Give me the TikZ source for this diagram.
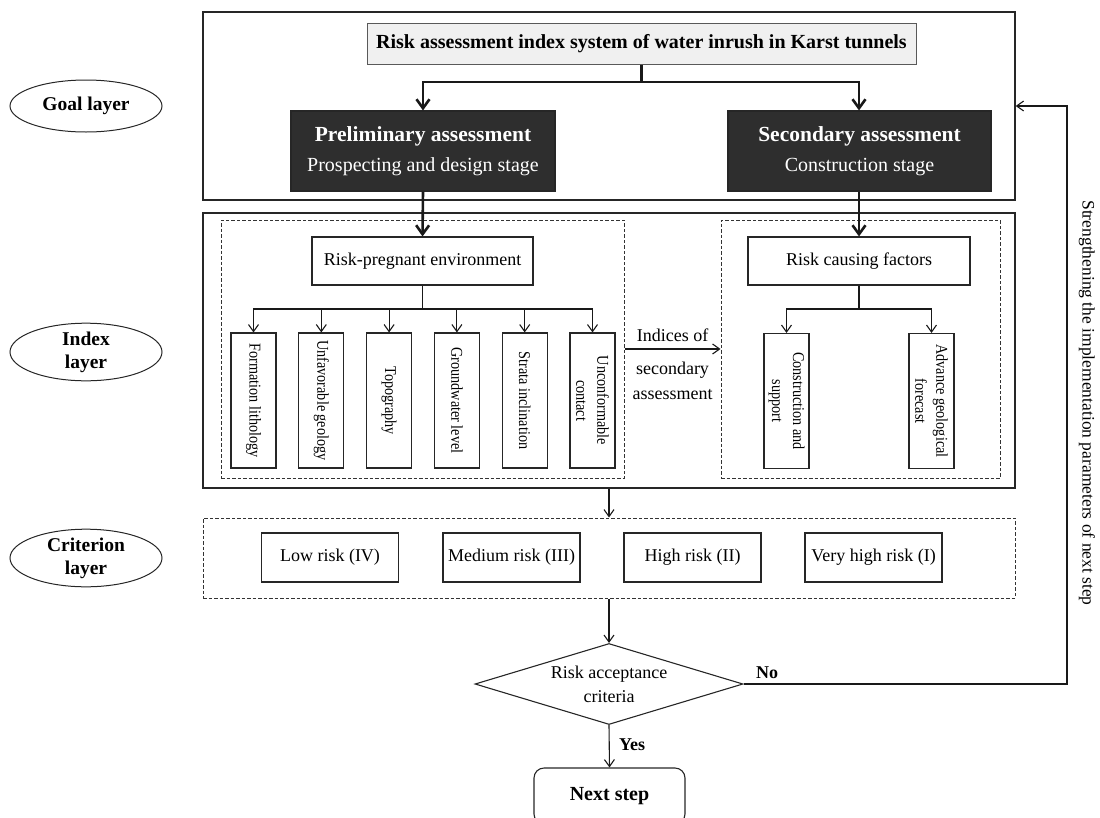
\documentclass[tikz,border=0pt]{standalone}
\usepackage{fontspec}
\setmainfont{Liberation Serif}
\newfontfamily\condfont{Liberation Serif}[FakeStretch=0.86]
\usetikzlibrary{arrows.meta,shapes.geometric}
\begin{document}
\begin{tikzpicture}[x=1pt,y=-1pt,
  frame/.style={draw=black!85,line width=1.4pt,inner sep=0pt},
  dbox/.style={draw=black!80,line width=1pt,dash pattern=on 3.5pt off 2pt,inner sep=0pt},
  box/.style={draw=black!85,line width=1.1pt,inner sep=0pt,align=center,font=\fontsize{18}{22}\selectfont},
  dark/.style={draw=black!85,fill=black!82,text=white,line width=1.1pt,inner sep=0pt,align=center,minimum width=264pt,minimum height=80pt,font=\fontsize{20}{30}\selectfont},
  vbox/.style={box,rotate=-90,minimum width=135pt,minimum height=45pt,font=\condfont\fontsize{16.5}{21}\selectfont},
  rbox/.style={box,minimum width=137pt,minimum height=49pt},
  layer/.style={ellipse,draw=black!85,line width=1pt,minimum width=152pt,minimum height=52pt,inner sep=0pt,align=center,font=\bfseries\fontsize{19.5}{23}\selectfont},
  tline/.style={draw=black!90,line width=2.6pt,line join=miter},
  tarr/.style={tline,-{Straight Barb[length=9pt,width=13pt]}},
  tline2/.style={draw=black!90,line width=1.1pt},
  arr/.style={tline2,-{Straight Barb[length=7pt,width=10pt]}},
  lbl/.style={inner sep=0pt,align=center,font=\fontsize{18}{25}\selectfont},
  blbl/.style={inner sep=0pt,font=\bfseries\fontsize{18}{22}\selectfont}
]
\useasboundingbox (0,0) rectangle (1100,817);

% layer ellipses
\node[layer] (lgoal) at (86,106) {Goal layer};
\node[layer] (lindex) at (86,352) {Index\\layer};
\node[layer] (lcrit) at (86,558) {Criterion\\layer};

% goal layer
\node[frame,minimum width=812pt,minimum height=188pt] (goal) at (609,106) {};
\node[draw=black!65,fill=black!6,line width=1pt,inner sep=0pt,minimum width=549pt,minimum height=41pt,font=\bfseries\fontsize{20}{24}\selectfont] (title) at (641.5,43.5) {Risk assessment index system of water inrush in Karst tunnels};
\node[dark] (pre) at (423,151) {{\bfseries\fontsize{21.5}{30}\selectfont Preliminary assessment}\\Prospecting and design stage};
\node[dark,minimum width=263pt] (sec) at (859.5,151) {{\bfseries\fontsize{21.5}{30}\selectfont Secondary assessment}\\Construction stage};
\coordinate (jt) at (641.5,82);
\draw[tline] (title.south) -- (jt);
\draw[tarr] (jt) -| (pre.north);
\draw[tarr] (jt) -| ([xshift=-0.5pt]sec.north);

% index layer
\node[frame,minimum width=812pt,minimum height=275pt] (idx) at (609,350.5) {};
\node[dbox,minimum width=403pt,minimum height=258pt] (ldash) at (422.5,349) {};
\node[dbox,minimum width=279pt,minimum height=258pt] (rdash) at (860.5,349) {};
\node[box,minimum width=221pt,minimum height=48pt] (rpe) at (422.5,261) {Risk-pregnant environment};
\node[box,minimum width=222pt,minimum height=48pt] (rcf) at (859,261) {Risk causing factors};
\draw[tarr] (pre.south) -- (rpe.north);
\draw[tarr] ([xshift=-0.5pt]sec.south) -- (rcf.north);

\node[vbox] (f1) at (253.5,400.5) {Formation lithology};
\node[vbox] (f2) at (321.3,400.5) {Unfavorable geology};
\node[vbox] (f3) at (389.1,400.5) {Topography};
\node[vbox] (f4) at (456.9,400.5) {Groundwater level};
\node[vbox] (f5) at (524.7,400.5) {Strata inclination};
\node[vbox] (f6) at (592.5,400.5) {Unconformable\\contact};
\coordinate (jl) at (422.5,309);
\draw[tline2] (rpe.south) -- (jl);
\foreach \f in {f1,f2,f3,f4,f5,f6} \draw[arr] (jl) -| (\f.west);

\node[vbox] (cs) at (786.5,401) {Construction and\\support};
\node[vbox] (ag) at (931.5,401) {Advance geological\\forecast};
\coordinate (jr) at (859,309);
\draw[tline2] (rcf.south) -- (jr);
\draw[arr] (jr) -| (cs.west);
\draw[arr] (jr) -| (ag.west);

\draw[arr] (ldash.east) -- (rdash.west);
\node[lbl] (ind1) at (672.5,335) {Indices of};
\node[lbl] (ind2) at (672.5,381) {secondary\\assessment};

% criterion layer
\node[dbox,minimum width=812pt,minimum height=80pt] (crit) at (609,558) {};
\draw[arr] (idx.south) -- (crit.north);
\node[rbox] (r1) at (330,557.5) {Low risk (IV)};
\node[rbox] (r2) at (511.5,557.5) {Medium risk (III)};
\node[rbox] (r3) at (692.5,557.5) {High risk (II)};
\node[rbox] (r4) at (873.5,557.5) {Very high risk (I)};

% decision
\node[diamond,draw=black!85,line width=1.1pt,inner sep=0pt,aspect=3.3,minimum width=268pt,minimum height=81pt,align=center,font=\fontsize{18}{24}\selectfont] (dia) at (609,684) {Risk acceptance\\criteria};
\draw[arr] (crit.south) -- (dia.north);
\node[draw=black!85,line width=1.1pt,rounded corners=10pt,minimum width=151pt,minimum height=56pt,inner sep=0pt,font=\bfseries\fontsize{20}{24}\selectfont] (ns) at (609.5,796) {Next step};
\draw[arr] (dia.south) -- (ns.north);
\node[blbl,anchor=west] (yes) at (619,745) {Yes};
\node[blbl,anchor=west] (no) at (756,673) {No};

\coordinate (fb) at (1067,684);
\draw[arr] (dia.east) -- (fb) |- (goal.east);
\node[inner sep=0pt,rotate=-90,font=\fontsize{17.5}{20}\selectfont] (fbt) at (1087,403) {Strengthening the implementation parameters of next step};
\end{tikzpicture}
\end{document}
